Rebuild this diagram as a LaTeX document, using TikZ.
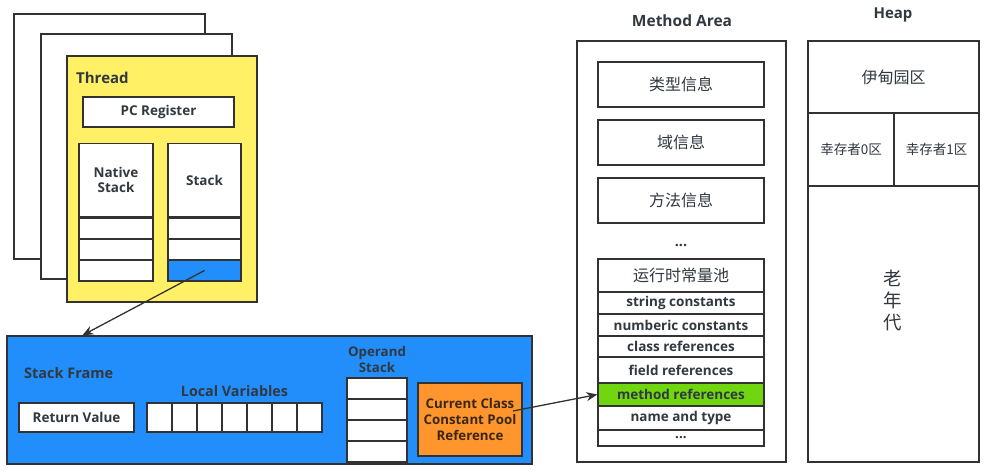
\documentclass[tikz,border=0pt]{standalone}
\usepackage{fontspec}
\setmainfont{Open Sans}
\newfontfamily\cjk{Noto Sans CJK SC}
\usetikzlibrary{arrows.meta}
\definecolor{threadyellow}{RGB}{255,240,102}
\definecolor{frameblue}{RGB}{33,142,252}
\definecolor{poolorange}{RGB}{255,150,45}
\definecolor{refgreen}{RGB}{112,214,16}
\definecolor{linegray}{RGB}{50,50,50}
\definecolor{textgray}{RGB}{50,56,64}
\begin{document}
\begin{tikzpicture}[x=1pt, y=-1pt,
    box/.style={draw=linegray, line width=1.3pt, fill=white, inner sep=0pt, text=textgray,
        align=center, font=\bfseries\fontsize{13.5}{15}\selectfont},
    cjkbox/.style={box, font=\cjk\fontsize{16}{18}\selectfont},
    lbl/.style={text=textgray, inner sep=0pt, align=center, font=\bfseries\fontsize{14.3}{16}\selectfont},
    link/.style={draw=linegray, line width=1.3pt, -{Stealth[length=11pt, width=9pt]}}]
\useasboundingbox (0,0) rectangle (990,471);

\node[box, minimum width=191pt, minimum height=245pt] (page1) at (109.5,136.5) {};
\node[box, minimum width=191pt, minimum height=245pt] (page2) at (136.5,156.5) {};
\node[box, fill=threadyellow, minimum width=190pt, minimum height=246pt] (thread) at (162,179) {};
\node[lbl, anchor=west, font=\bfseries\fontsize{15}{17}\selectfont] (threadlbl) at (76,78) {Thread};
\node[box, minimum width=151pt, minimum height=30pt] (pc) at (158.5,112) {PC Register};
\node[box, minimum width=74pt, minimum height=73pt] (native) at (116,180) {Native\\Stack};
\node[box, minimum width=73pt, minimum height=73pt] (stack) at (204.5,180) {Stack};
\foreach \i in {1,2,3} {
    \node[box, minimum width=74pt, minimum height=21pt] (ns\i) at (116,{207.5+21*\i}) {};
    \node[box, minimum width=73pt, minimum height=21pt] (st\i) at (204.5,{207.5+21*\i}) {};
}
\node[box, fill=frameblue, minimum width=73pt, minimum height=21pt] at (st3) {};

\node[box, fill=frameblue, minimum width=525pt, minimum height=128pt] (frame) at (269.5,400) {};
\node[lbl, anchor=west, font=\bfseries\fontsize{14.5}{16}\selectfont] (framelbl) at (24,373) {Stack Frame};
\node[box, minimum width=115pt, minimum height=29pt] (ret) at (76.5,417.5) {Return Value};
\foreach \i in {1,...,7}
    \node[box, minimum width=25pt, minimum height=29pt] (lv\i) at ({134.5+25*\i},417.5) {};
\node[lbl] (lvlbl) at (234.5,391) {Local Variables};
\node[lbl, font=\bfseries\fontsize{13.3}{16}\selectfont] (oplbl) at (377,360) {Operand\\Stack};
\foreach \i in {1,2,3,4}
    \node[box, minimum width=60pt, minimum height=21pt] (op\i) at (377,{367.5+21*\i}) {};
\node[box, fill=poolorange, minimum width=104pt, minimum height=73pt, text=black!70!brown,
    font=\bfseries\fontsize{13.3}{16}\selectfont] (cp) at (470,419.5) {Current Class\\Constant Pool\\Reference};
\coordinate (cpout) at (513,411);

\node[lbl, font=\bfseries\fontsize{15.5}{17}\selectfont] (matitle) at (682,21) {Method Area};
\node[box, minimum width=209pt, minimum height=421pt] (ma) at (681.5,251.5) {};
\node[cjkbox, minimum width=166pt, minimum height=45pt] (type) at (681,84.5) {类型信息};
\node[cjkbox, minimum width=166pt, minimum height=45pt] (field) at (681,142.5) {域信息};
\node[cjkbox, minimum width=166pt, minimum height=45pt] (method) at (681,200.5) {方法信息};
\node[lbl] (madots) at (681,245) {...};
\node[cjkbox, minimum width=166pt, minimum height=33pt] (pool) at (681,275.5) {运行时常量池};
\foreach \t/\b/\nm/\col/\txt in {292/314/sc/white/string constants, 314/336/nc/white/numberic constants,
        336/357/cr/white/class references, 357/383/fr/white/field references,
        383/406/mref/refgreen/method references, 406/430/nt/white/name and type}
    \node[box, fill=\col, minimum width=166pt, minimum height={(\b-\t)*1pt}] (\nm) at (681,{(\t+\b)/2}) {\txt};
\node[box, minimum width=166pt, minimum height=16pt] (pdots) at (681,438) {...};

\node[lbl, font=\bfseries\fontsize{15}{17}\selectfont] (heaptitle) at (893,15) {Heap};
\node[cjkbox, minimum width=171pt, minimum height=72pt] (eden) at (893.5,77) {伊甸园区};
\node[cjkbox, minimum width=86pt, minimum height=73pt, font=\cjk\fontsize{13.5}{15}\selectfont] (s0) at (851,149.5) {幸存者0区};
\node[cjkbox, minimum width=85pt, minimum height=73pt, font=\cjk\fontsize{13.5}{15}\selectfont] (s1) at (936.5,149.5) {幸存者1区};
\node[cjkbox, minimum width=171pt, minimum height=276pt] (old) at (893.5,324) {};
\node[text=textgray, align=center, font=\cjk\fontsize{18.5}{22}\selectfont] (oldlbl) at (893,300) {老\\年\\代};

\draw[link] (st3.center) -- ([xshift=76pt]frame.north west);
\draw[link] (cpout) -- (mref.west);
\end{tikzpicture}
\end{document}
